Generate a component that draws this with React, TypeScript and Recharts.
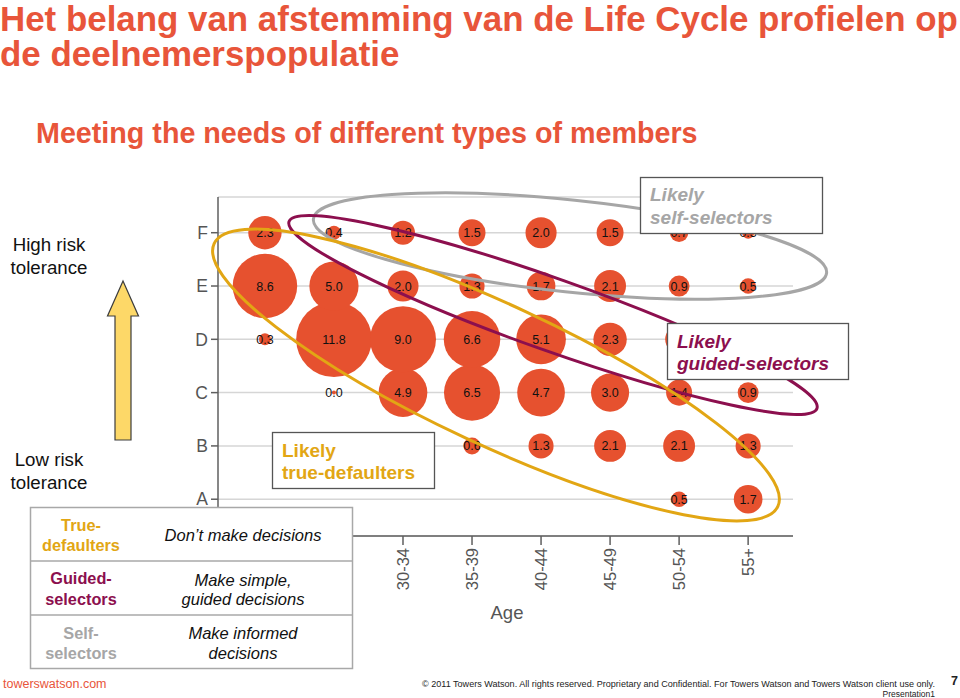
import React from 'react';
import { ScatterChart, Scatter, XAxis, YAxis, CartesianGrid } from 'recharts';

// ---------- data ----------
const ageGroups = ['<25', '25-29', '30-34', '35-39', '40-44', '45-49', '50-54', '55+'];
const riskProfiles = ['A', 'B', 'C', 'D', 'E', 'F'];

const profileA: (number | null)[] = [null, null, null, null, null, null, 0.5, 1.7];
const profileB: (number | null)[] = [null, null, null, 0.6, 1.3, 2.1, 2.1, 1.3];
const profileC: (number | null)[] = [null, 0.0, 4.9, 6.5, 4.7, 3.0, 1.4, 0.9];
const profileD: (number | null)[] = [0.3, 11.8, 9.0, 6.6, 5.1, 2.3, 1.6, 0.6];
const profileE: (number | null)[] = [8.6, 5.0, 2.0, 1.3, 1.7, 2.1, 0.9, 0.5];
const profileF: (number | null)[] = [2.3, 0.4, 1.2, 1.5, 2.0, 1.5, 0.7, 0.3];

const profileRows = [profileA, profileB, profileC, profileD, profileE, profileF];

const points = profileRows.flatMap((row, ri) =>
  row
    .map((v, ci) => (v === null ? null : { age: ci, risk: ri + 1, value: v }))
    .filter((p) => p !== null)
) as { age: number; risk: number; value: number }[];

const xTicks = ageGroups.map((_, i) => i);
const yTicks = riskProfiles.map((_, i) => i + 1);

// ---------- style ----------
const FONT = '"Liberation Sans", Arial, Helvetica, sans-serif';
const RED = '#E8553A';
const BUBBLE = '#E6512F';
const GOLD = '#E2A614';
const MAROON = '#8C0F4E';
const GREY = '#A6A6A6';
const AXIS = '#5F5F5F';
const TICKTXT = '#555555';

const Bubble = (props: any) => {
  const { cx, cy, payload } = props;
  if (cx == null || cy == null) return <g />;
  const r = Math.max(2, 11 * Math.sqrt(payload.value));
  return <circle cx={cx} cy={cy} r={r} fill={BUBBLE} />;
};

const BubbleLabel = (props: any) => {
  const { cx, cy, payload } = props;
  if (cx == null || cy == null) return <g />;
  return (
    <text x={cx} y={cy} dy="0.36em" textAnchor="middle" fontSize={12.5} fontFamily={FONT} fill="#111">
      {payload.value.toFixed(1)}
    </text>
  );
};

const AgeTick = (props: any) => {
  const { x, y, payload } = props;
  return (
    <text
      x={x}
      y={y}
      transform={`rotate(-90 ${x} ${y})`}
      textAnchor="end"
      dy="0.36em"
      fontSize={16.5}
      fontFamily={FONT}
      fill={TICKTXT}
    >
      {ageGroups[payload.value]}
    </text>
  );
};

export default function App() {
  return (
    <div style={{ position: 'absolute', left: 0, top: 0, width: 960, height: 698, background: '#fff', fontFamily: FONT, overflow: 'hidden' }}>
      <div style={{ position: 'absolute', left: 0, top: 0 }}>
        <ScatterChart width={960} height={698} margin={{ top: 197, right: 167, left: 178, bottom: 102 }}>
          <CartesianGrid vertical={false} stroke="#D6D6D6" strokeWidth={1.5} />
          <XAxis
            type="number"
            dataKey="age"
            domain={[-0.68, 7.65]}
            ticks={xTicks}
            interval={0}
            height={60}
            allowDataOverflow
            tick={<AgeTick />}
            tickSize={9}
            tickMargin={3}
            axisLine={{ stroke: AXIS, strokeWidth: 1.5 }}
            tickLine={{ stroke: AXIS, strokeWidth: 1.5 }}
          />
          <YAxis
            type="number"
            dataKey="risk"
            domain={[0.31, 6.67]}
            ticks={yTicks}
            interval={0}
            width={40}
            allowDataOverflow
            tickFormatter={(v: number) => riskProfiles[v - 1]}
            tick={{ fontSize: 17.5, fontFamily: FONT, fill: TICKTXT }}
            tickSize={7}
            tickMargin={3}
            axisLine={{ stroke: AXIS, strokeWidth: 1.5 }}
            tickLine={{ stroke: AXIS, strokeWidth: 1.5 }}
          />
          <Scatter data={points} shape={<Bubble />} isAnimationActive={false} />
          <Scatter data={points} shape={<BubbleLabel />} isAnimationActive={false} />
        </ScatterChart>
      </div>

      <svg width={960} height={698} style={{ position: 'absolute', left: 0, top: 0, pointerEvents: 'none' }} fontFamily={FONT}>
        {/* titles */}
        <text x={0} y={31} fontSize={34.9} fontWeight="bold" fill={RED}>
          Het belang van afstemming van de Life Cycle profielen op
        </text>
        <text x={0} y={66} fontSize={34.9} fontWeight="bold" fill={RED}>
          de deelnemerspopulatie
        </text>
        <text x={36} y={143} fontSize={28.7} fontWeight="bold" fill={RED}>
          Meeting the needs of different types of members
        </text>

        {/* risk tolerance labels */}
        <text x={49} y={251} fontSize={18.7} textAnchor="middle" fill="#111">High risk</text>
        <text x={49} y={274} fontSize={18.7} textAnchor="middle" fill="#111">tolerance</text>
        <text x={49} y={466} fontSize={18.7} textAnchor="middle" fill="#111">Low risk</text>
        <text x={49} y={489} fontSize={18.7} textAnchor="middle" fill="#111">tolerance</text>

        {/* arrow */}
        <polygon
          points="123,281 138.5,316 131,316 131,440 115,440 115,316 107.5,316"
          fill="#FDD868"
          stroke="#3C3C3C"
          strokeWidth={1.2}
          strokeLinejoin="miter"
        />

        {/* ellipses */}
        <ellipse cx={570} cy={246} rx={258} ry={46} transform="rotate(6 570 246)" fill="none" stroke={GREY} strokeWidth={3} />
        <ellipse cx={553} cy={315} rx={280} ry={36} transform="rotate(19.5 553 315)" fill="none" stroke={MAROON} strokeWidth={3} />
        <ellipse cx={496} cy={375} rx={311} ry={70} transform="rotate(25 496 375)" fill="none" stroke={GOLD} strokeWidth={3} />

        {/* annotation boxes */}
        <rect x={640.5} y={177.5} width={182} height={56} fill="#fff" stroke="#555" strokeWidth={1.3} />
        <text x={650} y={201} fontSize={19} fontWeight="bold" fontStyle="italic" fill={GREY}>Likely</text>
        <text x={650} y={224} fontSize={19} fontWeight="bold" fontStyle="italic" fill={GREY}>self-selectors</text>

        <rect x={667.5} y={323.5} width={181} height={56} fill="#fff" stroke="#555" strokeWidth={1.3} />
        <text x={677} y={348} fontSize={19} fontWeight="bold" fontStyle="italic" fill={MAROON}>Likely</text>
        <text x={677} y={370} fontSize={19} fontWeight="bold" fontStyle="italic" fill={MAROON}>guided-selectors</text>

        <rect x={272.5} y={432.5} width={162} height={56} fill="#fff" stroke="#555" strokeWidth={1.3} />
        <text x={282} y={457} fontSize={19} fontWeight="bold" fill={GOLD}>Likely</text>
        <text x={282} y={479} fontSize={19} fontWeight="bold" fill={GOLD}>true-defaulters</text>

        {/* axis title */}
        <text x={507} y={619} fontSize={18.5} textAnchor="middle" fill={TICKTXT}>Age</text>

        {/* member types table */}
        <rect x={30.5} y={507.5} width={322} height={161} fill="#fff" stroke="#A8A8A8" strokeWidth={1.5} />
        <line x1={30.5} x2={352.5} y1={561} y2={561} stroke="#A8A8A8" strokeWidth={1.5} />
        <line x1={30.5} x2={352.5} y1={615} y2={615} stroke="#A8A8A8" strokeWidth={1.5} />

        <text x={81} y={531} fontSize={16.3} fontWeight="bold" textAnchor="middle" fill={GOLD}>True-</text>
        <text x={81} y={551} fontSize={16.3} fontWeight="bold" textAnchor="middle" fill={GOLD}>defaulters</text>
        <text x={81} y={584} fontSize={16.3} fontWeight="bold" textAnchor="middle" fill={MAROON}>Guided-</text>
        <text x={81} y={605} fontSize={16.3} fontWeight="bold" textAnchor="middle" fill={MAROON}>selectors</text>
        <text x={81} y={639} fontSize={16.3} fontWeight="bold" textAnchor="middle" fill={GREY}>Self-</text>
        <text x={81} y={659} fontSize={16.3} fontWeight="bold" textAnchor="middle" fill={GREY}>selectors</text>

        <text x={243} y={541} fontSize={16.5} fontStyle="italic" textAnchor="middle" fill="#111">Don’t make decisions</text>
        <text x={243} y={586} fontSize={16.5} fontStyle="italic" textAnchor="middle" fill="#111">Make simple,</text>
        <text x={243} y={605} fontSize={16.5} fontStyle="italic" textAnchor="middle" fill="#111">guided decisions</text>
        <text x={243} y={639} fontSize={16.5} fontStyle="italic" textAnchor="middle" fill="#111">Make informed</text>
        <text x={243} y={659} fontSize={16.5} fontStyle="italic" textAnchor="middle" fill="#111">decisions</text>

        {/* footer */}
        <text x={3} y={688} fontSize={12.5} fill={RED}>towerswatson.com</text>
        <text x={422} y={687} fontSize={9} fill="#222" textLength={513} lengthAdjust="spacingAndGlyphs">
          © 2011 Towers Watson. All rights reserved. Proprietary and Confidential. For Towers Watson and Towers Watson client use only.
        </text>
        <text x={951} y={685} fontSize={12.5} fontWeight="bold" fill="#222">7</text>
        <text x={935} y={697} fontSize={8.5} textAnchor="end" fill="#222">Presentation1</text>
      </svg>
    </div>
  );
}
